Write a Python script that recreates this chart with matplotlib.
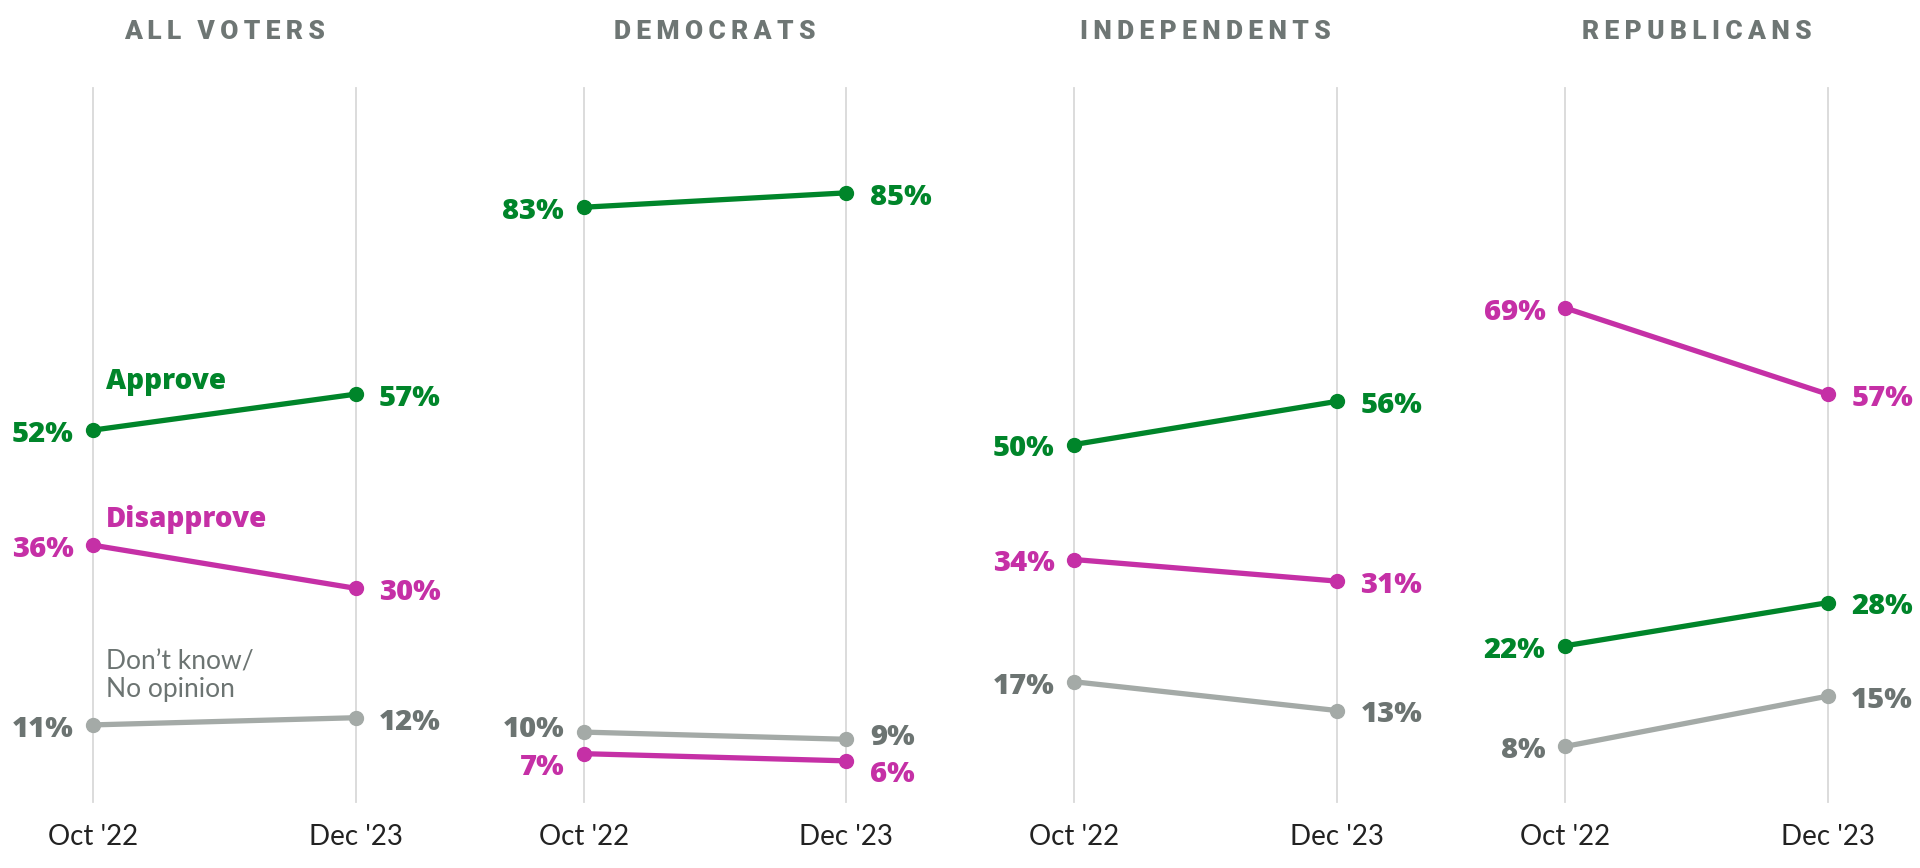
import matplotlib.pyplot as plt

# Data
panels = ['ALL VOTERS', 'DEMOCRATS', 'INDEPENDENTS', 'REPUBLICANS']
periods = ["Oct '22", "Dec '23"]
series_names = ['Approve', 'Disapprove', 'Don\u2019t know/\nNo opinion']

approve = [[52, 57], [83, 85], [50, 56], [22, 28]]
disapprove = [[36, 30], [7, 6], [34, 31], [69, 57]]
dont_know = [[11, 12], [10, 9], [17, 13], [8, 15]]

GREEN = '#00852a'
MAGENTA = '#c530a6'
GRAY_LINE = '#a4aaa7'
GRAY_TEXT = '#6c7472'
GRID = '#d9d9d9'

FONT = ['Lato', 'DejaVu Sans']
BOLD = ['Roboto', 'DejaVu Sans']
NUM = ['Open Sans', 'DejaVu Sans']
plt.rcParams['font.family'] = FONT

W, H = 1920, 868
fig = plt.figure(figsize=(W / 100, H / 100), dpi=100)

span = 262.5
pad = 0.4
y_top, y_bot = 85, 804

# small vertical nudges so close labels don't collide (Democrats panel)
nudge = {(1, 1): -1.3, (1, 2): 0.9}

for i, name in enumerate(panels):
    x0 = 93 + i * 490.7
    left = (x0 - pad * span) / W
    width = (1 + 2 * pad) * span / W
    ax = fig.add_axes([left, (H - y_bot) / H, width, (y_bot - y_top) / H])
    ax.set_xlim(-pad, 1 + pad)
    ax.set_ylim(0, 100)
    ax.axis('off')

    for xv in (0, 1):
        ax.plot([xv, xv], [0.3, 99.6], color=GRID, lw=1.3, zorder=1)
        ax.text(xv, -2.8, periods[xv], ha='center', va='top', fontsize=20,
                color='#222222')

    title = '\u2009'.join(list(name)).replace('\u2009 \u2009', '\u2009\u2009\u2009')
    ax.text(0.5, 1.0 + (85 - 32) / (y_bot - y_top), title, transform=ax.transAxes,
            ha='center', va='center', fontsize=19, fontweight='black',
            color='#6e7674', family=BOLD)

    groups = [(approve[i], GREEN, GREEN),
              (disapprove[i], MAGENTA, MAGENTA),
              (dont_know[i], GRAY_LINE, GRAY_TEXT)]
    for k, (vals, lc, tc) in enumerate(groups):
        dy = nudge.get((i, k), 0)
        ax.plot([0, 1], vals, color=lc, lw=3.8, marker='o', markersize=10,
                solid_capstyle='round', zorder=3)
        ax.text(-0.075, vals[0] - 0.6 + dy, f'{vals[0]}%', ha='right', va='center',
                fontsize=21, fontweight='heavy', color=tc, family=NUM)
        ax.text(1.09, vals[1] - 0.6 + dy, f'{vals[1]}%', ha='left', va='center',
                fontsize=21, fontweight='heavy', color=tc, family=NUM)

    if i == 0:
        ax.text(0.05, 57.7, series_names[0], ha='left', va='baseline',
                fontsize=20, fontweight='heavy', color=GREEN, family=NUM)
        ax.text(0.05, 38.5, series_names[1], ha='left', va='baseline',
                fontsize=20, fontweight='heavy', color=MAGENTA, family=NUM)
        ax.text(0.05, 14.9, series_names[2], ha='left', va='baseline',
                fontsize=19, color=GRAY_TEXT, linespacing=1.1)

fig.savefig('out.png', dpi=100)
